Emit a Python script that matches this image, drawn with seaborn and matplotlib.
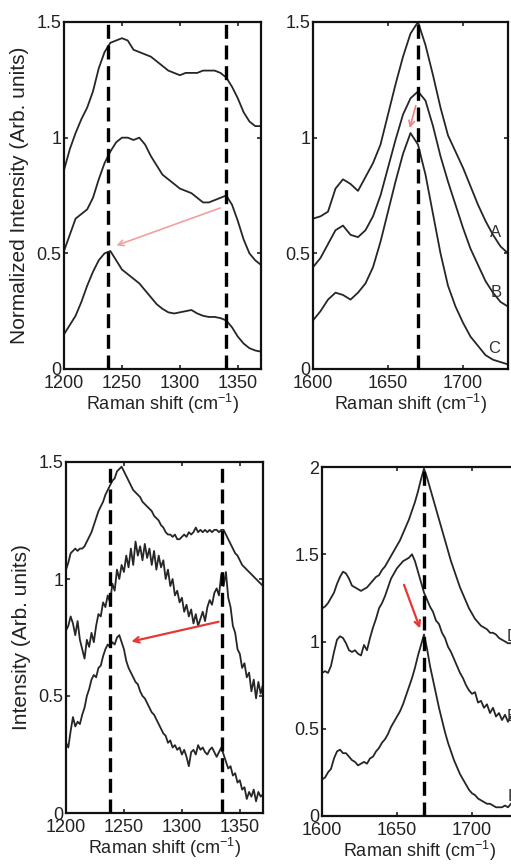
import numpy as np
import pandas as pd
import matplotlib
matplotlib.use("Agg")
import matplotlib.pyplot as plt
import seaborn as sns

# ---- data ----
# top left: Amide III region, normalised spectra
tl_x = list(range(1200, 1371, 5))
tl_top = [0.86, 0.95, 1.02, 1.08, 1.13, 1.20, 1.30, 1.37, 1.41, 1.42,
          1.43, 1.42, 1.38, 1.37, 1.36, 1.35, 1.33, 1.31, 1.29, 1.28,
          1.27, 1.28, 1.28, 1.28, 1.29, 1.29, 1.29, 1.28, 1.26, 1.22,
          1.17, 1.11, 1.07, 1.05, 1.05]
tl_mid = [0.51, 0.58, 0.65, 0.67, 0.69, 0.74, 0.82, 0.89, 0.94, 0.98,
          1.00, 1.00, 0.99, 1.00, 0.97, 0.92, 0.88, 0.84, 0.82, 0.80,
          0.78, 0.77, 0.76, 0.74, 0.72, 0.72, 0.73, 0.74, 0.75, 0.71,
          0.64, 0.56, 0.50, 0.47, 0.45]
tl_bot = [0.15, 0.19, 0.23, 0.29, 0.36, 0.42, 0.47, 0.50, 0.51, 0.47,
          0.43, 0.41, 0.39, 0.37, 0.34, 0.31, 0.28, 0.26, 0.245, 0.24,
          0.245, 0.25, 0.255, 0.24, 0.23, 0.225, 0.225, 0.22, 0.21, 0.18,
          0.14, 0.11, 0.09, 0.08, 0.075]
tl_marks = [1238, 1340]

# top right: Amide I region, curves A B C
tr_x = list(range(1600, 1731, 5))
tr_a = [0.65, 0.66, 0.68, 0.78, 0.82, 0.80, 0.77, 0.83, 0.89, 0.97,
        1.10, 1.23, 1.35, 1.45, 1.50, 1.40, 1.27, 1.13, 1.01, 0.94,
        0.87, 0.79, 0.71, 0.64, 0.58, 0.53, 0.50]
tr_b = [0.44, 0.48, 0.54, 0.60, 0.62, 0.58, 0.57, 0.60, 0.66, 0.75,
        0.87, 0.99, 1.10, 1.17, 1.20, 1.16, 1.05, 0.92, 0.81, 0.71,
        0.61, 0.52, 0.45, 0.38, 0.33, 0.29, 0.27]
tr_c = [0.21, 0.25, 0.30, 0.33, 0.32, 0.30, 0.33, 0.37, 0.44, 0.55,
        0.68, 0.81, 0.93, 1.02, 0.97, 0.84, 0.67, 0.50, 0.36, 0.27,
        0.20, 0.14, 0.10, 0.06, 0.04, 0.03, 0.02]
tr_marks = [1670]
tr_names = ["A", "B", "C"]

# bottom left: raw spectra
bl_x = list(range(1200, 1371, 2))
bl_top = [1.04, 1.07, 1.11, 1.12, 1.13, 1.12, 1.13, 1.13, 1.14, 1.16,
          1.18, 1.20, 1.23, 1.26, 1.29, 1.31, 1.33, 1.36, 1.38, 1.40,
          1.42, 1.43, 1.46, 1.47, 1.48, 1.46, 1.44, 1.42, 1.40, 1.38,
          1.37, 1.36, 1.35, 1.33, 1.32, 1.31, 1.30, 1.29, 1.27, 1.26,
          1.25, 1.23, 1.22, 1.20, 1.19, 1.19, 1.18, 1.19, 1.17, 1.17,
          1.18, 1.19, 1.18, 1.20, 1.19, 1.20, 1.22, 1.20, 1.21, 1.20,
          1.21, 1.20, 1.21, 1.20, 1.21, 1.21, 1.20, 1.21, 1.21, 1.19,
          1.17, 1.15, 1.13, 1.11, 1.10, 1.08, 1.06, 1.05, 1.04, 1.03,
          1.02, 1.01, 1.00, 0.99, 0.98, 0.97]
bl_mid = [0.78, 0.80, 0.84, 0.81, 0.76, 0.82, 0.74, 0.70, 0.66, 0.74,
          0.71, 0.77, 0.73, 0.80, 0.85, 0.84, 0.90, 0.88, 0.93, 0.90,
          0.98, 0.95, 1.04, 1.00, 1.06, 1.03, 1.10, 1.05, 1.13, 1.06,
          1.16, 1.10, 1.14, 1.08, 1.15, 1.09, 1.13, 1.06, 1.12, 1.04,
          1.10, 1.05, 1.08, 1.00, 1.04, 0.97, 1.00, 0.93, 0.95, 0.90,
          0.92, 0.86, 0.89, 0.84, 0.87, 0.81, 0.85, 0.80, 0.83, 0.86,
          0.82, 0.88, 0.91, 0.89, 0.94, 0.96, 0.93, 1.02, 0.97, 1.03,
          0.92, 0.88, 0.80, 0.77, 0.70, 0.68, 0.62, 0.64, 0.58, 0.60,
          0.52, 0.57, 0.49, 0.56, 0.51, 0.55]
bl_bot = [0.30, 0.28, 0.35, 0.41, 0.37, 0.39, 0.38, 0.42, 0.45, 0.50,
          0.53, 0.57, 0.59, 0.58, 0.62, 0.63, 0.67, 0.70, 0.72, 0.71,
          0.73, 0.72, 0.75, 0.76, 0.73, 0.70, 0.65, 0.62, 0.60, 0.58,
          0.56, 0.55, 0.52, 0.50, 0.49, 0.47, 0.45, 0.43, 0.42, 0.40,
          0.38, 0.36, 0.34, 0.33, 0.30, 0.31, 0.28, 0.29, 0.27, 0.28,
          0.25, 0.27, 0.24, 0.20, 0.26, 0.27, 0.25, 0.29, 0.27, 0.28,
          0.26, 0.25, 0.27, 0.28, 0.26, 0.24, 0.26, 0.28, 0.25, 0.22,
          0.19, 0.20, 0.16, 0.17, 0.13, 0.14, 0.10, 0.11, 0.06, 0.09,
          0.07, 0.10, 0.05, 0.09, 0.07, 0.08]
bl_marks = [1238, 1335]

# bottom right: curves D E F
br_x = list(range(1600, 1731, 2))
br_d = [1.19, 1.20, 1.22, 1.25, 1.28, 1.33, 1.37, 1.40, 1.39, 1.36,
        1.32, 1.31, 1.30, 1.29, 1.30, 1.31, 1.33, 1.35, 1.37, 1.38,
        1.41, 1.43, 1.46, 1.49, 1.52, 1.55, 1.58, 1.62, 1.66, 1.70,
        1.75, 1.80, 1.86, 1.93, 1.99, 1.94, 1.88, 1.82, 1.76, 1.70,
        1.64, 1.58, 1.52, 1.46, 1.41, 1.36, 1.31, 1.27, 1.23, 1.19,
        1.16, 1.13, 1.11, 1.09, 1.08, 1.07, 1.05, 1.05, 1.04, 1.02,
        1.01, 1.00, 0.99, 0.99, 0.98, 0.97]
br_e = [0.82, 0.83, 0.82, 0.86, 0.94, 1.01, 1.03, 1.02, 0.99, 0.95,
        0.94, 0.95, 0.93, 0.92, 0.98, 0.95, 1.02, 1.08, 1.13, 1.19,
        1.22, 1.26, 1.31, 1.36, 1.39, 1.42, 1.44, 1.46, 1.47, 1.48,
        1.50, 1.46, 1.40, 1.34, 1.28, 1.24, 1.20, 1.17, 1.12, 1.10,
        1.05, 1.02, 0.97, 0.94, 0.90, 0.86, 0.82, 0.79, 0.75, 0.72,
        0.70, 0.71, 0.65, 0.66, 0.62, 0.64, 0.59, 0.62, 0.57, 0.59,
        0.55, 0.58, 0.54, 0.57, 0.53, 0.55]
br_f = [0.21, 0.22, 0.25, 0.27, 0.33, 0.37, 0.38, 0.36, 0.36, 0.34,
        0.32, 0.31, 0.29, 0.30, 0.31, 0.30, 0.33, 0.34, 0.37, 0.39,
        0.42, 0.44, 0.47, 0.51, 0.54, 0.57, 0.60, 0.64, 0.69, 0.74,
        0.79, 0.85, 0.92, 0.98, 1.04, 0.96, 0.86, 0.78, 0.70, 0.62,
        0.55, 0.48, 0.42, 0.37, 0.32, 0.28, 0.24, 0.21, 0.18, 0.15,
        0.13, 0.12, 0.10, 0.09, 0.08, 0.07, 0.07, 0.06, 0.05, 0.05,
        0.05, 0.06, 0.05, 0.07, 0.09, 0.10]
br_marks = [1668]
br_names = ["D", "E", "F"]

yticks_15 = [0, 0.5, 1, 1.5]
yticks_2 = [0, 0.5, 1, 1.5, 2]
xticks_l = [1200, 1250, 1300, 1350]
xticks_r = [1600, 1650, 1700]

# ---- style ----
sns.set_style("ticks")
plt.rcParams['font.family'] = ['Liberation Sans', 'DejaVu Sans']
plt.rcParams['mathtext.fontset'] = 'custom'
plt.rcParams['mathtext.rm'] = 'Liberation Sans'
plt.rcParams['mathtext.it'] = 'Liberation Sans'

LINE = '#262626'
TXT = '#222222'
XLAB = r'Raman shift (cm$^{-1}$)'

fig = plt.figure(figsize=(5.11, 8.64), dpi=100)
W, H = 511, 864


def make_ax(left, top, w, h):
    return fig.add_axes([left / W, 1 - (top + h) / H, w / W, h / H])


ax_tl = make_ax(64, 22, 197, 347)
ax_tr = make_ax(313, 22, 195, 347)
ax_bl = make_ax(66, 462, 197, 351)
ax_br = make_ax(322, 467, 195, 349)


#draw a group of spectra and the dashed peak markers on one panel
def draw_panel(ax, x, curves, marks, xlim, ylim, xticks, yticks):
    for y in curves:
        sns.lineplot(x=x, y=y, ax=ax, color=LINE, linewidth=1.3,
                     estimator=None, sort=False)
    for m in marks:
        ax.axvline(m, color='black', linestyle=(0, (4.2, 2.0)), linewidth=2.4, zorder=5)
    ax.set_xlim(*xlim)
    ax.set_ylim(*ylim)
    ax.set_xticks(xticks)
    ax.set_xticklabels([str(t) for t in xticks])
    ax.set_yticks(yticks)
    ax.set_yticklabels(['%g' % t for t in yticks])
    ax.tick_params(direction='in', top=True, right=True, length=3, width=1.2,
                   labelsize=13, colors=TXT)
    ax.tick_params(axis='x', pad=4)
    ax.tick_params(axis='y', pad=2)
    for s in ax.spines.values():
        s.set_linewidth(1.6)
        s.set_color('#111111')
    ax.set_xlabel(XLAB, fontsize=13, color=TXT, labelpad=0)
    ax.set_ylabel('')


draw_panel(ax_tl, tl_x, [tl_top, tl_mid, tl_bot], tl_marks, (1200, 1370), (0, 1.5), xticks_l, yticks_15)
draw_panel(ax_tr, tr_x, [tr_a, tr_b, tr_c], tr_marks, (1600, 1730), (0, 1.5), xticks_r, yticks_15)
draw_panel(ax_bl, bl_x, [bl_top, bl_mid, bl_bot], bl_marks, (1200, 1370), (0, 1.5), xticks_l, yticks_15)
draw_panel(ax_br, br_x, [br_d, br_e, br_f], br_marks, (1600, 1730), (0, 2), xticks_r, yticks_2)

ax_tl.set_ylabel('Normalized Intensity (Arb. units)', fontsize=15, color=TXT, labelpad=5)
ax_bl.set_ylabel('Intensity (Arb. units)', fontsize=15, color=TXT, labelpad=5)

# curve letters
for name, (lx, ly) in zip(tr_names, [(1722, 0.59), (1722, 0.33), (1721, 0.09)]):
    ax_tr.text(lx, ly, name, fontsize=12, color='#333333', ha='center', va='center')
for name, (lx, ly) in zip(br_names, [(1727, 1.03), (1727, 0.57), (1727, 0.11)]):
    ax_br.text(lx, ly, name, fontsize=12, color='#333333', ha='center', va='center')

# peak shift arrows
ax_tl.annotate('', xy=(1243, 0.53), xytext=(1337, 0.70),
               arrowprops=dict(arrowstyle='->', color='#f2a0a0', lw=1.2), zorder=6)
ax_tr.annotate('', xy=(1664, 1.03), xytext=(1669, 1.15),
               arrowprops=dict(arrowstyle='->', color='#f08080', lw=1.2), zorder=6)
ax_bl.annotate('', xy=(1254, 0.73), xytext=(1334, 0.82),
               arrowprops=dict(arrowstyle='->', color='#e53935', lw=1.6), zorder=6)
ax_br.annotate('', xy=(1666, 1.06), xytext=(1654, 1.34),
               arrowprops=dict(arrowstyle='->', color='#e53935', lw=1.6), zorder=6)

fig.savefig('out.png', dpi=100)
